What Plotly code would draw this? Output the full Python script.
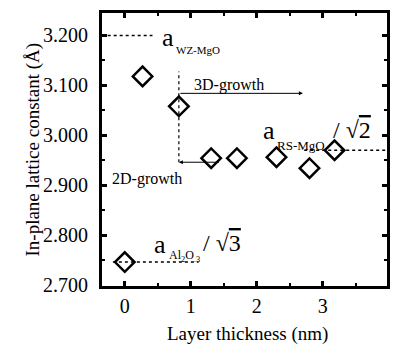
import plotly.graph_objects as go

# data
thickness = [0.0, 0.27, 0.82, 1.31, 1.70, 2.30, 2.80, 3.18]
lattice = [2.746, 3.118, 3.058, 2.954, 2.954, 2.956, 2.934, 2.970]

a_wz = 3.200
a_rs = 2.970
a_al = 2.746
wz_x = [-0.35, 0.42]
rs_x = [2.72, 3.98]
al_x = [-0.18, 1.12]
onset_x = 0.82
onset_y = [2.946, 3.128]
arrow3d = [0.82, 2.70, 3.084]
arrow2d = [1.45, 0.82, 2.946]

x_ticks = [0, 1, 2, 3, 4]
y_ticks = [2.7, 2.8, 2.9, 3.0, 3.1, 3.2]

SERIF = "Liberation Serif"

fig = go.Figure()
dot = dict(color="black", width=1.5, dash="dot")
fig.add_trace(go.Scatter(x=wz_x, y=[a_wz, a_wz], mode="lines", line=dot, hoverinfo="skip"))
fig.add_trace(go.Scatter(x=rs_x, y=[a_rs, a_rs], mode="lines", line=dot, hoverinfo="skip"))
fig.add_trace(go.Scatter(x=al_x, y=[a_al, a_al], mode="lines", line=dot, hoverinfo="skip"))
fig.add_trace(go.Scatter(x=[onset_x, onset_x], y=onset_y, mode="lines",
                         line=dict(color="black", width=1.2, dash="dot"), hoverinfo="skip"))
fig.add_trace(go.Scatter(x=thickness, y=lattice, mode="markers",
                         marker=dict(symbol="diamond-open", size=15, color="black",
                                     line=dict(color="black", width=2.5))))

ann = []
# arrows
ann.append(dict(x=arrow3d[1], y=arrow3d[2], ax=arrow3d[0], ay=arrow3d[2], xref="x", yref="y",
                axref="x", ayref="y", showarrow=True, arrowhead=2, arrowsize=0.8,
                arrowwidth=1, arrowcolor="black", text=""))
ann.append(dict(x=arrow2d[1], y=arrow2d[2], ax=arrow2d[0], ay=arrow2d[2], xref="x", yref="y",
                axref="x", ayref="y", showarrow=True, arrowhead=2, arrowsize=0.8,
                arrowwidth=1, arrowcolor="black", text=""))

def txt(x, y, s, size, xanchor="left"):
    ann.append(dict(x=x, y=y, xref="x", yref="y", text=s, showarrow=False,
                    xanchor=xanchor, yanchor="middle",
                    font=dict(family=SERIF, size=size, color="black")))

txt(0.66, 3.196, "a", 26, "center")
txt(0.75, 3.170, "WZ-MgO", 11)
txt(1.02, 3.100, "3D-growth", 16)
txt(-0.23, 2.912, "2D-growth", 16)
txt(2.19, 3.010, "a", 26, "center")
txt(2.28, 2.980, "RS-MgO", 13)
txt(3.13, 3.010, "/ √<span style='text-decoration:overline'>2</span>", 24)
txt(0.54, 2.782, "a", 26, "center")
txt(0.645, 2.758, "Al<sub>2</sub>O<sub>.3</sub>", 12)
txt(1.16, 2.784, "/ √<span style='text-decoration:overline'>3</span>", 24)

ann.append(dict(x=0, y=0.5, xref="paper", yref="paper", xshift=-70, text="In-plane lattice constant (Å)",
                textangle=-90, showarrow=False, xanchor="center", yanchor="middle",
                font=dict(family=SERIF, size=19, color="black")))
ann.append(dict(x=0.51, y=0, xref="paper", yref="paper", yshift=-48, text="Layer thickness (nm)",
                showarrow=False, xanchor="center", yanchor="middle",
                font=dict(family=SERIF, size=19, color="black")))

axis_common = dict(showline=True, linewidth=3, linecolor="black", mirror="ticks",
                   ticks="inside", ticklen=5, tickwidth=2.5, tickcolor="black",
                   showgrid=False, zeroline=False,
                   tickfont=dict(family=SERIF, size=20, color="black"))

fig.update_layout(
    width=393, height=346,
    margin=dict(l=102, r=3, t=12.5, b=60),
    plot_bgcolor="white", paper_bgcolor="white",
    showlegend=False,
    annotations=ann,
    xaxis=dict(range=[-0.345, 3.975], tickvals=x_ticks, ticktext=[str(v) for v in x_ticks],
               minor=dict(ticks="inside", ticklen=3, tickwidth=2, dtick=0.5, tick0=0, tickcolor="black"),
               **axis_common),
    yaxis=dict(range=[2.698, 3.245], tickvals=y_ticks, ticktext=[f"{v:.3f}" for v in y_ticks],
               ticklabelstandoff=7,
               minor=dict(ticks="inside", ticklen=3, tickwidth=2, dtick=0.05, tick0=2.7, tickcolor="black"),
               **axis_common),
)

fig.write_html("out.html", config={"displayModeBar": False},
               post_script="document.body.style.margin='0';document.body.style.padding='0';")
